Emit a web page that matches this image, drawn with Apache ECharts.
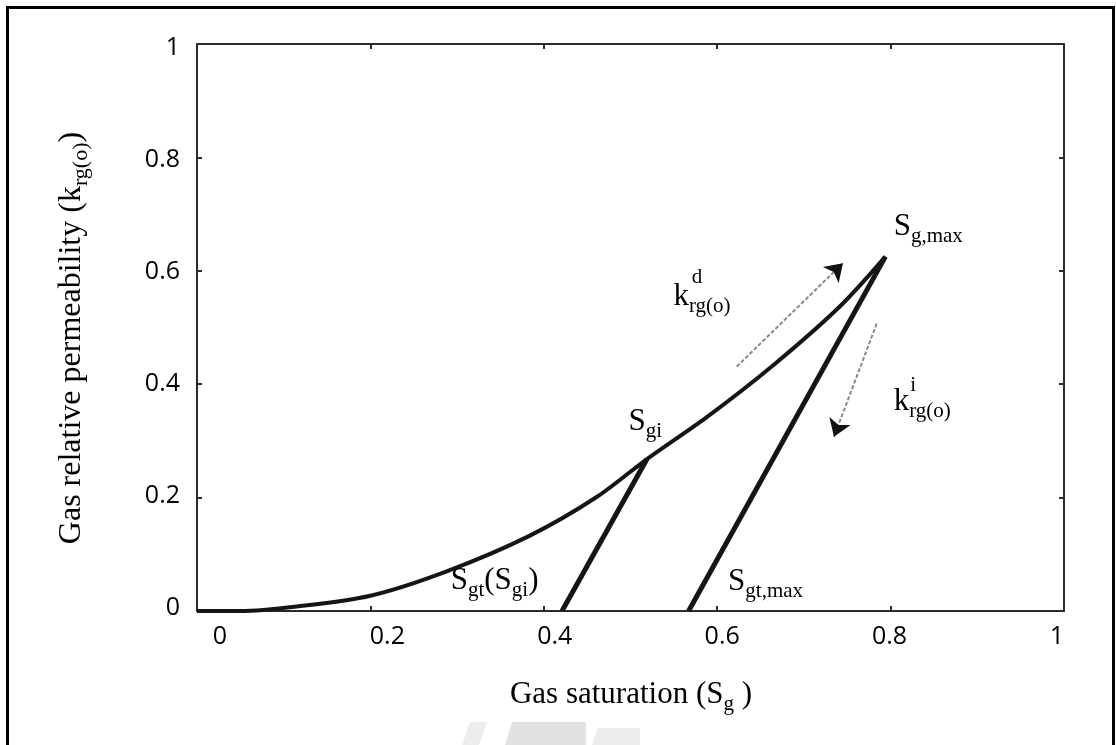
<!DOCTYPE html>
<html>
<head>
<meta charset="utf-8">
<script src="https://cdn.jsdelivr.net/npm/echarts@6/dist/echarts.min.js"></script>
<style>
html, body { margin: 0; padding: 0; background: #fff; }
#chart { width: 1116px; height: 745px; }
</style>
</head>
<body>
<div id="chart"></div>
<script>
// drainage curve k_rg(o)^d
const drainSg = [0, 0.05, 0.115, 0.20, 0.288, 0.384, 0.461, 0.519, 0.588, 0.665, 0.742, 0.794];
const drainKr = [0, 0, 0.008, 0.027, 0.070, 0.133, 0.201, 0.268, 0.342, 0.434, 0.538, 0.625];

// imbibition lines (from S_gi and from S_g,max down to trapped saturation)
const imbGiSg = [0.421, 0.519];
const imbGiKr = [0, 0.268];
const imbMaxSg = [0.567, 0.794];
const imbMaxKr = [0, 0.625];

const tickValues = [0, 0.2, 0.4, 0.6, 0.8, 1];

// direction arrows: [start, end]
const arrowUp = [[0.6225, 0.431], [0.745, 0.6135]];
const arrowDown = [[0.784, 0.507], [0.7347, 0.3072]];

// annotations: [Sg, kr, rich text]
const notes = [
    [0.803, 0.677, '{m|S}{s|g,max}'],
    [0.549, 0.554, '{m|k}{s|rg(o)}'],
    [0.570, 0.588, '{p|d}'],
    [0.803, 0.369, '{m|k}{s|rg(o)}'],
    [0.822, 0.3975, '{p|i}'],
    [0.497, 0.333, '{m|S}{s|gi}'],
    [0.292, 0.053, '{m|S}{s|gt}{m|(S}{s|gi}{m|)}'],
    [0.612, 0.051, '{m|S}{s|gt,max}']
];

const serif = "'Liberation Serif', 'DejaVu Serif', serif";
const richText = {
    m: { fontFamily: serif, fontSize: 31, lineHeight: 40, color: '#000' },
    s: { fontFamily: serif, fontSize: 21, lineHeight: 22, verticalAlign: 'bottom', color: '#000' },
    p: { fontFamily: serif, fontSize: 21, lineHeight: 22, color: '#000' }
};
const richTitle = Object.assign({}, richText, {
    m: Object.assign({}, richText.m, { fontSize: 32 }),
    s: Object.assign({}, richText.s, { fontSize: 22 })
});

const frameColor = '#2b2b2b';

function frameAxis(position, extra) {
    return Object.assign({
        type: 'value',
        position: position,
        min: 0,
        max: 1,
        interval: 0.2,
        axisLine: { show: true, onZero: false, lineStyle: { color: frameColor, width: 2 } },
        axisTick: { show: true, inside: true, length: 5, lineStyle: { color: frameColor, width: 2 } },
        axisLabel: { show: false },
        splitLine: { show: false }
    }, extra || {});
}

function labelAxis(position, min, max, margin) {
    return {
        type: 'value',
        position: position,
        min: min,
        max: max,
        axisLine: { show: false },
        axisTick: { show: false },
        splitLine: { show: false },
        axisLabel: {
            show: true,
            customValues: tickValues,
            margin: margin,
            fontFamily: "'Open Sans', 'Liberation Sans', sans-serif",
            fontSize: 25,
            color: '#000',
            formatter: function (v) { return String(+v.toFixed(1)); }
        }
    };
}

const chart = echarts.init(document.getElementById('chart'));

const toPairs = (xs, ys) => xs.map((x, i) => [x, ys[i]]);
const curveStyle = { color: '#151515', width: 4, cap: 'butt', join: 'miter' };

chart.setOption({
    animation: false,
    backgroundColor: '#fff',
    grid: { left: 197, top: 44, width: 867, height: 567, containLabel: false },
    xAxis: [
        frameAxis('bottom'),
        frameAxis('top'),
        // tick labels of the original sit on a slightly different scale than the frame ticks
        labelAxis('bottom', -0.0275, 1.0084, 13)
    ],
    yAxis: [
        frameAxis('left'),
        frameAxis('right'),
        labelAxis('left', -0.0054, 1.0071, 17)
    ],
    graphic: [
        {
            type: 'rect',
            shape: { x: 7.5, y: 7.5, width: 1106, height: 760 },
            style: { fill: 'none', stroke: '#000', lineWidth: 3 },
            silent: true
        },
        {
            type: 'text',
            x: 631,
            y: 695,
            style: {
                text: '{m|Gas saturation (S}{s|g}{m| )}',
                rich: richText,
                align: 'center',
                verticalAlign: 'middle'
            },
            silent: true
        },
        {
            type: 'text',
            x: 72,
            y: 338,
            rotation: Math.PI / 2,
            style: {
                text: '{m|Gas relative permeability (k}{s|rg(o)}{m|)}',
                rich: richTitle,
                align: 'center',
                verticalAlign: 'middle'
            },
            silent: true
        },
        // faint watermark at the bottom edge
        { type: 'polygon', shape: { points: [[462, 745], [470, 722], [487, 722], [479, 745]] }, style: { fill: '#ededed' }, silent: true },
        { type: 'polygon', shape: { points: [[505, 745], [512, 722], [586, 722], [586, 745]] }, style: { fill: '#e2e2e2' }, silent: true },
        { type: 'polygon', shape: { points: [[592, 745], [598, 728], [640, 728], [640, 745]] }, style: { fill: '#ececec' }, silent: true }
    ],
    series: [
        {
            name: 'drainage',
            type: 'line',
            data: toPairs(drainSg, drainKr),
            smooth: 0.3,
            showSymbol: false,
            lineStyle: curveStyle,
            silent: true
        },
        {
            name: 'imbibition Sgi',
            type: 'line',
            data: toPairs(imbGiSg, imbGiKr),
            showSymbol: false,
            lineStyle: Object.assign({}, curveStyle, { width: 5 }),
            silent: true
        },
        {
            name: 'imbibition Sgmax',
            type: 'line',
            data: toPairs(imbMaxSg, imbMaxKr),
            showSymbol: false,
            lineStyle: Object.assign({}, curveStyle, { width: 5 }),
            silent: true
        },
        {
            name: 'arrow shafts',
            type: 'lines',
            coordinateSystem: 'cartesian2d',
            data: [{ coords: arrowUp }, { coords: arrowDown }],
            symbol: ['none', 'none'],
            lineStyle: { color: '#8a8a8a', width: 2, type: [4, 2], opacity: 1, curveness: 0 },
            silent: true
        },
        {
            name: 'arrow heads',
            type: 'lines',
            coordinateSystem: 'cartesian2d',
            data: [{ coords: arrowUp }, { coords: arrowDown }],
            symbol: ['none', 'arrow'],
            symbolSize: [12, 17],
            lineStyle: { color: '#111', width: 0.01, opacity: 1, curveness: 0 },
            silent: true
        },
        {
            name: 'notes',
            type: 'scatter',
            symbolSize: 1,
            itemStyle: { color: 'rgba(0,0,0,0)' },
            data: notes.map(n => ({
                value: [n[0], n[1]],
                label: { formatter: n[2] }
            })),
            label: {
                show: true,
                position: 'right',
                distance: 0,
                color: '#000',
                opacity: 1,
                rich: richText
            },
            silent: true,
            z: 5
        }
    ]
});
</script>
</body>
</html>
